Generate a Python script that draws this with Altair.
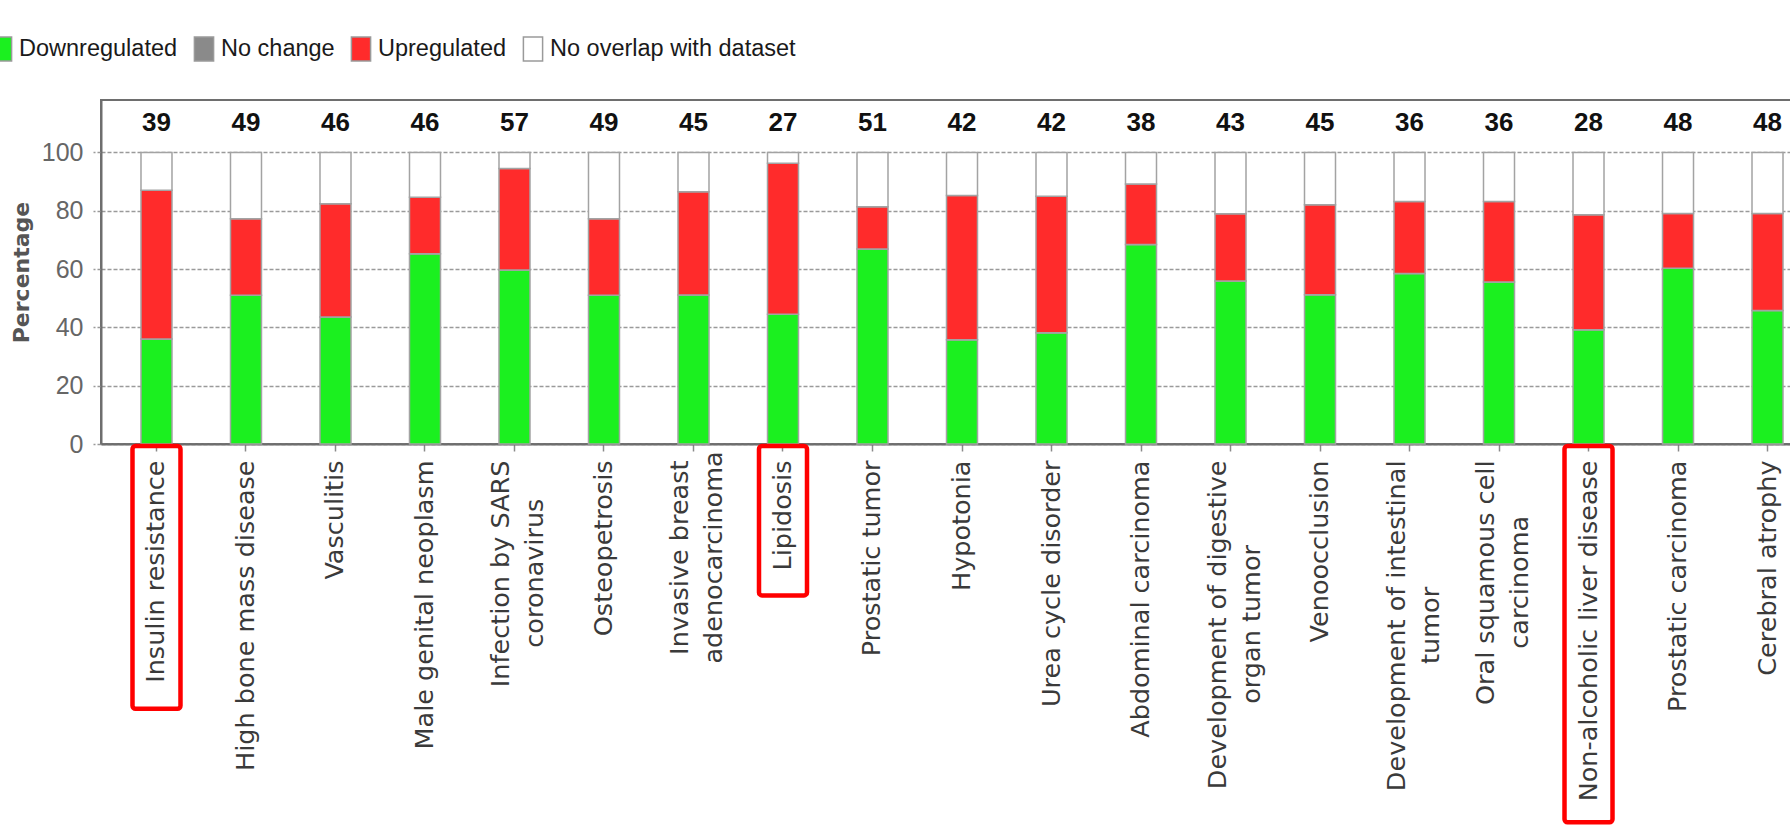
import json

import altair as alt
import pandas as pd

# Diseases and functions, left to right
categories = [
    "Insulin resistance",
    "High bone mass disease",
    "Vasculitis",
    "Male genital neoplasm",
    "Infection by SARS coronavirus",
    "Osteopetrosis",
    "Invasive breast adenocarcinoma",
    "Lipidosis",
    "Prostatic tumor",
    "Hypotonia",
    "Urea cycle disorder",
    "Abdominal carcinoma",
    "Development of digestive organ tumor",
    "Venoocclusion",
    "Development of intestinal tumor",
    "Oral squamous cell carcinoma",
    "Non-alcoholic liver disease",
    "Prostatic carcinoma",
    "Cerebral atrophy",
]

# Percentage of molecules in each direction
downregulated = [36.0, 51.0, 43.6, 65.3, 59.7, 51.0, 51.1, 44.5, 66.9, 35.8,
                 38.2, 68.4, 55.9, 51.2, 58.5, 55.6, 39.2, 60.3, 45.8]
no_change = [0, 0, 0, 0, 0, 0, 0, 0, 0, 0, 0, 0, 0, 0, 0, 0, 0, 0, 0]
upregulated = [51.0, 26.3, 38.8, 19.3, 34.8, 26.3, 35.4, 51.8, 14.5, 49.4,
               46.8, 20.8, 23.1, 30.9, 24.7, 27.6, 39.4, 18.8, 33.3]

# Total molecules annotated to each category (printed above the bars)
molecule_counts = [39, 49, 46, 46, 57, 49, 45, 27, 51, 42,
                   42, 38, 43, 45, 36, 36, 28, 48, 48]

# Categories outlined in red below the axis
highlighted = ["Insulin resistance", "Lipidosis", "Non-alcoholic liver disease"]

# Two-line axis labels
wrapped = {
    "Infection by SARS coronavirus": ["Infection by SARS", "coronavirus"],
    "Invasive breast adenocarcinoma": ["Invasive breast", "adenocarcinoma"],
    "Development of digestive organ tumor": ["Development of digestive", "organ tumor"],
    "Development of intestinal tumor": ["Development of intestinal", "tumor"],
    "Oral squamous cell carcinoma": ["Oral squamous cell", "carcinoma"],
}

states = ["Downregulated", "No change", "Upregulated", "No overlap with dataset"]
state_colors = ["#1bf01f", "#8a8a8a", "#ff2b2b", "#ffffff"]

NARROW = "Liberation Sans Narrow, Liberation Sans, sans-serif"
WIDE = "DejaVu Sans, Verdana, sans-serif"
LABEL_SIZE = 25.5
SECOND_LINE_SHIFT = 21
TICK = 7
LABEL_PAD = 9

PLOT_W = 1722
PLOT_H = 344
Y_MAX = 118
PX_PER_UNIT = PLOT_H / Y_MAX

# Approximate DejaVu Sans advance widths (em), used to centre the second
# line of a wrapped label along the first one.
CHAR_EM = {
    "a": .613, "b": .635, "c": .550, "d": .635, "e": .615, "f": .352, "g": .635,
    "h": .634, "i": .278, "j": .278, "k": .579, "l": .278, "m": .974, "n": .634,
    "o": .612, "p": .635, "q": .635, "r": .411, "s": .521, "t": .392, "u": .634,
    "v": .592, "w": .818, "x": .592, "y": .592, "z": .525, " ": .318,
    "D": .770, "I": .295, "O": .787, "S": .635, "A": .684, "R": .695,
}


def text_px(s):
    return sum(CHAR_EM.get(c, 0.65) for c in s) * LABEL_SIZE


rows = []
for i, cat in enumerate(categories):
    rest = 100 - downregulated[i] - no_change[i] - upregulated[i]
    for k, (state, val) in enumerate(zip(states, [downregulated[i], no_change[i], upregulated[i], rest])):
        rows.append({"category": cat, "state": state, "pct": val, "order": k})
bars_df = pd.DataFrame(rows)

counts_df = pd.DataFrame({"category": categories, "n": molecule_counts})
box_df = pd.DataFrame({"category": highlighted})

# Second lines of wrapped labels, centred along the first line
second_df = pd.DataFrame({
    "category": list(wrapped),
    "line2": [v[1] for v in wrapped.values()],
    "mid": [-(TICK + LABEL_PAD + text_px(v[0]) / 2) / PX_PER_UNIT for v in wrapped.values()],
})

# The axis draws the first line of a wrapped label, nudged left of its tick
label_expr = " : ".join(
    f"datum.label === {json.dumps(k)} ? {json.dumps(v[0])}" for k, v in wrapped.items()
) + " : datum.label"
is_wrapped = f"indexof({json.dumps(list(wrapped))}, datum.value) >= 0"

x_enc = alt.X(
    "category:N",
    sort=categories,
    scale=alt.Scale(paddingInner=0, paddingOuter=0.12),
    axis=alt.Axis(
        title=None,
        labelAngle=270,
        labelAlign="right",
        labelBaseline={"condition": {"test": is_wrapped, "value": "bottom"}, "value": "middle"},
        labelFont=WIDE,
        labelFontSize=LABEL_SIZE,
        labelColor="#3a3a3a",
        labelLimit=1000,
        labelPadding=LABEL_PAD,
        labelExpr=label_expr,
        tickSize=TICK,
        tickColor="#8a8a8a",
        tickWidth=1.5,
        domainColor="#6e6e6e",
        domainWidth=2,
        grid=False,
    ),
)

y_scale = alt.Scale(domain=[0, Y_MAX], nice=False, zero=True)

bars = alt.Chart(bars_df).mark_bar(size=31, stroke="#a3a3a3", strokeWidth=1.5).encode(
    x=x_enc,
    y=alt.Y(
        "pct:Q",
        stack="zero",
        scale=y_scale,
        axis=alt.Axis(
            values=[0, 20, 40, 60, 80, 100],
            title="Percentage",
            titleFont=WIDE,
            titleFontSize=22,
            titleFontWeight="bold",
            titleColor="#555555",
            titlePadding=8,
            labelFont=NARROW,
            labelFontSize=25,
            labelColor="#666666",
            labelPadding=10,
            tickSize=8,
            tickColor="#9a9a9a",
            tickWidth=1.5,
            tickDash=[4, 2],
            grid=True,
            gridColor="#9a9a9a",
            gridWidth=1.5,
            gridDash=[4, 2],
            domainColor="#6e6e6e",
            domainWidth=2,
        ),
    ),
    color=alt.Color(
        "state:N",
        scale=alt.Scale(domain=states, range=state_colors),
        legend=alt.Legend(
            title=None,
            orient="none",
            direction="horizontal",
            columns=4,
            legendX=-112,
            legendY=-64,
            padding=0,
            symbolType="M-0.8,-1H0.8V1H-0.8Z",
            symbolSize=576,
            symbolStrokeColor="#9a9a9a",
            symbolStrokeWidth=1.5,
            symbolOpacity=1,
            labelFont=NARROW,
            labelFontSize=23.5,
            labelColor="#1a1a1a",
            labelLimit=1000,
            labelOffset=4,
            columnPadding=13,
        ),
    ),
    order=alt.Order("order:Q"),
)

counts = alt.Chart(counts_df).mark_text(
    font=NARROW, fontSize=26, fontWeight="bold", color="#111111", baseline="middle"
).encode(
    x=alt.X("category:N", sort=categories),
    y=alt.datum(110),
    text="n:Q",
)

# dy is applied in the rotated frame, so it moves the line to the right
second_lines = alt.Chart(second_df).mark_text(
    font=WIDE, fontSize=LABEL_SIZE, color="#3a3a3a", angle=270,
    align="center", baseline="middle", dy=SECOND_LINE_SHIFT,
).encode(
    x=alt.X("category:N", sort=categories),
    y=alt.Y("mid:Q"),
    text="line2:N",
)

# Red outline around selected axis labels; extent follows the label length
boxes = alt.Chart(box_df).transform_calculate(
    box_top=f"-2 / {PX_PER_UNIT}",
    box_end=f"-(38 + length(datum.category) * 12.6) / {PX_PER_UNIT}",
).mark_bar(
    size=48, fill="#ffffff", fillOpacity=0, stroke="#ff0000", strokeWidth=4.5, cornerRadius=3
).encode(
    x=alt.X("category:N", sort=categories),
    y=alt.Y("box_top:Q"),
    y2="box_end:Q",
)

chart = alt.layer(bars, counts, second_lines, boxes).properties(
    width=PLOT_W,
    height=PLOT_H,
    autosize=alt.AutoSizeParams(type="none"),
    padding={"left": 101, "top": 100, "right": 1790 - 101 - PLOT_W, "bottom": 831 - 100 - PLOT_H},
).configure_view(stroke="#6e6e6e", strokeWidth=2)

chart.save("out.html", embed_options={"renderer": "svg", "actions": False})
